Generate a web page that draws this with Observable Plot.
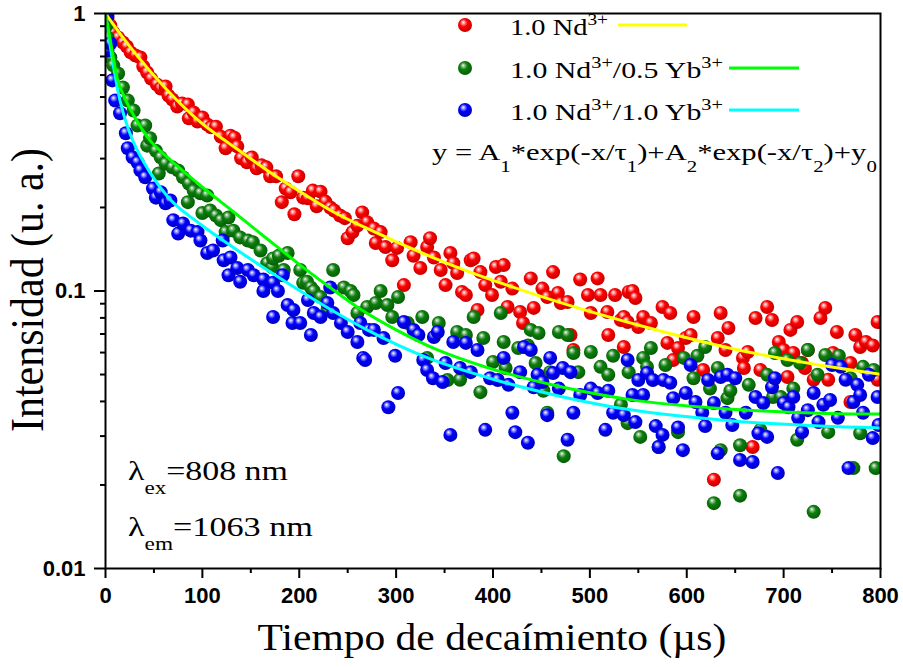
<!DOCTYPE html>
<html>
<head>
<meta charset="utf-8">
<script src="https://cdn.jsdelivr.net/npm/d3@7"></script>
<script src="https://cdn.jsdelivr.net/npm/@observablehq/plot@0.6"></script>
<style>
  html, body { margin: 0; padding: 0; background: #fff; }
  #chart { width: 903px; height: 667px; }
  #defs { position: absolute; width: 0; height: 0; }
</style>
</head>
<body>
<!-- shaded sphere fills for the markers -->
<svg id="defs" aria-hidden="true">
  <defs>
    <radialGradient id="ball-red" cx="0.45" cy="0.42" r="0.6" fx="0.36" fy="0.3">
      <stop offset="0" stop-color="#ffffff"/>
      <stop offset="0.18" stop-color="#ff9a9a"/>
      <stop offset="0.45" stop-color="#ff0000"/>
      <stop offset="1" stop-color="#c00000"/>
    </radialGradient>
    <radialGradient id="ball-green" cx="0.45" cy="0.42" r="0.6" fx="0.36" fy="0.3">
      <stop offset="0" stop-color="#ffffff"/>
      <stop offset="0.18" stop-color="#8fc08f"/>
      <stop offset="0.45" stop-color="#0c7f0c"/>
      <stop offset="1" stop-color="#055a05"/>
    </radialGradient>
    <radialGradient id="ball-blue" cx="0.45" cy="0.42" r="0.6" fx="0.36" fy="0.3">
      <stop offset="0" stop-color="#ffffff"/>
      <stop offset="0.18" stop-color="#9a9aff"/>
      <stop offset="0.45" stop-color="#0000ff"/>
      <stop offset="1" stop-color="#0000b8"/>
    </radialGradient>
  </defs>
</svg>
<div id="chart"></div>
<script>
// Decay curves: time (µs) and normalized intensity (u. a.)

// 1.0 Nd3+
const ndT = [2,5,8,13,18,22,26,31,36,39,43,47,53,57,62,65,69,74,79,85,86,91,95,100,105,109,114,119,124,129,133,136,140,146,151,156,161,166,170,176,182,186,191,195,199,204,209,214,218,222,227,232,236,242,247,250,255,260,265,270,277,279,284,289,296,301,308,315,318,325,332,335,339,346,351,356,359,363,368,372,377,380,384,387,392,399,403,408,411,415,420,428,431,439,442,451,456,462,467,470,477,480,483,490,498,501,508,511,518,519,526,532,535,535,539,540,544,547,550,555,563,575,580,583,586,591,599,604,607,617,628,632,635,640,643,658,659,663,668,671,676,683,688,695,700,704,707,710,714,719,722,725,731,738,743,746,751,755,769,769,774,779,785,792,797,797];
const ndI = [0.959,0.905,0.854,0.819,0.786,0.760,0.724,0.706,0.694,0.644,0.613,0.583,0.555,0.537,0.546,0.506,0.490,0.462,0.474,0.470,0.419,0.440,0.408,0.422,0.398,0.389,0.391,0.360,0.327,0.363,0.357,0.332,0.301,0.291,0.303,0.277,0.284,0.279,0.259,0.259,0.209,0.234,0.227,0.189,0.259,0.217,0.216,0.230,0.202,0.228,0.210,0.200,0.195,0.187,0.183,0.155,0.163,0.172,0.192,0.177,0.168,0.149,0.163,0.144,0.129,0.143,0.105,0.150,0.134,0.121,0.144,0.155,0.132,0.119,0.105,0.137,0.126,0.116,0.0992,0.0967,0.129,0.131,0.0854,0.117,0.105,0.0967,0.122,0.108,0.124,0.0876,0.102,0.0840,0.0767,0.111,0.0869,0.102,0.0951,0.117,0.0984,0.0905,0.0913,0.0694,0.0613,0.110,0.0967,0.0833,0.111,0.0967,0.0840,0.0694,0.0967,0.0786,0.0806,0.0628,0.0773,0.0992,0.100,0.0944,0.0742,0.0806,0.0767,0.0876,0.0650,0.0833,0.0564,0.0623,0.0677,0.0694,0.0806,0.0519,0.0209,0.0677,0.0833,0.0613,0.0736,0.0574,0.0528,0.0603,0.0274,0.0799,0.0519,0.0876,0.0786,0.0655,0.0613,0.0490,0.0724,0.0598,0.0773,0.0550,0.0528,0.0613,0.0479,0.0799,0.0869,0.0479,0.0598,0.0712,0.0550,0.0398,0.0694,0.0628,0.0655,0.0636,0.0773,0.0479];

// 1.0 Nd3+/0.5 Yb3+
const nd05T = [1,2,5,8,13,18,23,29,33,41,43,46,52,55,57,62,69,75,80,85,86,91,98,100,105,108,114,119,124,127,132,139,147,152,160,167,172,173,179,184,188,201,204,208,212,215,222,229,235,246,253,256,260,270,279,284,291,296,302,312,327,332,344,353,363,366,372,380,387,390,400,408,411,413,426,436,439,444,447,452,456,459,468,473,477,483,488,501,511,519,524,532,539,540,552,555,559,563,571,578,591,597,607,611,619,624,628,632,635,642,645,655,655,664,676,683,689,691,697,704,710,714,717,725,731,735,743,746,757,769,772,779,782,793,795];
const nd05I = [0.905,0.819,0.694,0.650,0.608,0.541,0.486,0.447,0.395,0.395,0.334,0.355,0.320,0.265,0.303,0.288,0.279,0.272,0.257,0.209,0.244,0.230,0.225,0.191,0.221,0.195,0.187,0.180,0.163,0.184,0.165,0.156,0.152,0.150,0.140,0.126,0.122,0.131,0.134,0.119,0.137,0.119,0.107,0.108,0.103,0.100,0.0951,0.0854,0.119,0.103,0.100,0.0967,0.0833,0.0876,0.0905,0.100,0.0890,0.0806,0.0951,0.0767,0.0806,0.0574,0.0767,0.0478,0.0712,0.0479,0.0694,0.0806,0.0432,0.0677,0.0555,0.0833,0.0655,0.0528,0.0623,0.0636,0.0724,0.0550,0.0706,0.0437,0.0364,0.0510,0.0712,0.0254,0.0694,0.0598,0.0510,0.0603,0.0533,0.0499,0.0584,0.0389,0.0334,0.0510,0.0298,0.0574,0.0533,0.0623,0.0274,0.0541,0.0310,0.0574,0.0485,0.0584,0.0628,0.0445,0.0172,0.0528,0.0267,0.0411,0.0437,0.0278,0.0183,0.0459,0.0316,0.0499,0.0415,0.0598,0.0415,0.0564,0.0445,0.0291,0.0550,0.0613,0.0160,0.0499,0.0588,0.0310,0.0584,0.0485,0.0230,0.0307,0.0533,0.0519,0.0230];

// 1.0 Nd3+/1.0 Yb3+
const nd10T = [2,2,5,7,10,15,21,23,28,33,36,41,49,52,57,62,67,70,75,80,88,95,98,105,111,121,122,127,129,136,139,147,153,163,163,173,173,178,183,188,193,194,201,209,212,215,222,229,232,235,243,250,260,263,266,268,272,277,287,292,299,302,308,318,323,328,332,338,339,343,348,351,356,359,366,372,377,384,392,397,405,411,416,420,423,428,432,436,439,442,446,451,456,459,462,468,472,477,480,483,490,501,508,516,519,524,535,539,544,547,550,555,559,565,568,571,575,576,583,586,591,596,599,604,609,616,619,622,628,632,635,640,642,647,650,655,661,668,671,674,679,683,688,691,694,700,705,710,715,719,725,731,736,741,748,750,756,759,764,767,772,776,779,782,788,792,797,798];
const nd10I = [0.98,0.736,0.780,0.574,0.486,0.437,0.370,0.327,0.303,0.291,0.272,0.257,0.234,0.217,0.227,0.207,0.212,0.180,0.161,0.175,0.165,0.163,0.152,0.137,0.140,0.152,0.129,0.114,0.132,0.121,0.108,0.119,0.114,0.110,0.100,0.107,0.0806,0.100,0.114,0.0890,0.0767,0.0854,0.0767,0.0928,0.0694,0.0833,0.0806,0.0905,0.103,0.0833,0.0767,0.0712,0.0655,0.0767,0.0574,0.0564,0.0724,0.0724,0.0677,0.0381,0.0584,0.0429,0.0773,0.0724,0.0694,0.0564,0.0519,0.0485,0.0683,0.0712,0.0470,0.0550,0.0303,0.0655,0.0528,0.0650,0.0510,0.0613,0.0316,0.0485,0.0478,0.0574,0.0459,0.0364,0.0310,0.0510,0.0628,0.0284,0.0613,0.0450,0.0499,0.0470,0.0357,0.0574,0.0506,0.0445,0.0528,0.0291,0.0510,0.0364,0.0422,0.0445,0.0429,0.0316,0.0437,0.0364,0.0357,0.0564,0.0422,0.0337,0.0478,0.0422,0.0506,0.0478,0.0326,0.0274,0.0303,0.0478,0.0467,0.0411,0.0322,0.0267,0.0429,0.0541,0.0398,0.0364,0.0326,0.0478,0.0395,0.0260,0.0490,0.0364,0.0499,0.0329,0.0485,0.0246,0.0364,0.0242,0.0415,0.0307,0.0395,0.0298,0.0450,0.0485,0.0221,0.0395,0.0381,0.0415,0.0349,0.0310,0.0372,0.0429,0.0337,0.0389,0.0405,0.0541,0.0349,0.0533,0.0479,0.0230,0.0398,0.0459,0.0422,0.0364,0.0499,0.0295,0.0415,0.0329];

// Biexponential fits, sampled along time
const fitNdT = [0,5,29,64,98,132,167,201,235,270,356,459,563,666,738,800];
const fitNdI = [1.0,0.944,0.730,0.528,0.406,0.332,0.272,0.228,0.193,0.168,0.1245,0.0933,0.0733,0.0600,0.0540,0.0501];
const fitNd05T = [0,5,12,21,29,46,64,98,132,167,201,235,263,300,332,400,470,542,635,738,800];
const fitNd05I = [1.0,0.80,0.588,0.486,0.43,0.349,0.303,0.240,0.193,0.154,0.124,0.101,0.0861,0.0724,0.0637,0.0522,0.0452,0.0406,0.0377,0.0363,0.0360];
const fitNd10T = [0,5,15,23,29,46,64,98,132,167,201,235,270,332,400,470,542,635,738,800];
const fitNd10I = [1.0,0.759,0.485,0.388,0.343,0.267,0.219,0.174,0.1435,0.119,0.100,0.0847,0.0724,0.0575,0.0481,0.0417,0.0373,0.0343,0.0326,0.0321];

// Axis ticks
const xMajor = [0,100,200,300,400,500,600,700,800];
const xMinor = [50,150,250,350,450,550,650,750];
const yMajor = [0.01,0.1,1];
const yMinor = [0.02,0.03,0.04,0.05,0.06,0.07,0.08,0.09,0.2,0.3,0.4,0.5,0.6,0.7,0.8,0.9];

// Legend entries: label parts, ball fill, fit colour
const seriesNames = [
  [["1.0 Nd"],["3+","sup"]],
  [["1.0 Nd"],["3+","sup"],["/0.5 Yb"],["3+","sup"]],
  [["1.0 Nd"],["3+","sup"],["/1.0 Yb"],["3+","sup"]]
];
const ballFills = ["url(#ball-red)","url(#ball-green)","url(#ball-blue)"];
const fitColors = ["#ffff00","#00ff00","#00ffff"];

const rows = (t, v) => t.map((x, i) => ({t: x, v: v[i]}));

const chart = Plot.plot({
  width: 903,
  height: 667,
  marginTop: 13,
  marginRight: 23,
  marginBottom: 99,
  marginLeft: 105,
  x: {domain: [0, 800]},
  y: {type: "log", domain: [0.01, 1]},
  style: {fontFamily: "'Liberation Sans', Arial, sans-serif", fontSize: "22px", fontWeight: "bold", color: "#000", background: "#fff"},
  marks: [
    Plot.dot(rows(ndT, ndI), {x: "t", y: "v", r: 7, fill: ballFills[0], clip: "frame"}),
    Plot.dot(rows(nd05T, nd05I), {x: "t", y: "v", r: 7, fill: ballFills[1], clip: "frame"}),
    Plot.dot(rows(nd10T, nd10I), {x: "t", y: "v", r: 7, fill: ballFills[2], clip: "frame"}),
    Plot.line(rows(fitNdT, fitNdI), {x: "t", y: "v", stroke: fitColors[0], strokeWidth: 3, curve: "monotone-x", clip: "frame"}),
    Plot.line(rows(fitNd10T, fitNd10I), {x: "t", y: "v", stroke: fitColors[2], strokeWidth: 3, curve: "monotone-x", clip: "frame"}),
    Plot.line(rows(fitNd05T, fitNd05I), {x: "t", y: "v", stroke: fitColors[1], strokeWidth: 3, curve: "monotone-x", clip: "frame"}),
    Plot.axisX({ticks: xMajor, tickSize: 10, tickPadding: 9, tickFormat: d => String(d), strokeWidth: 2, label: null, fontSize: 22}),
    Plot.axisX({ticks: xMinor, tickSize: 5, tickFormat: () => "", strokeWidth: 2, label: null}),
    Plot.axisY({ticks: yMajor, tickSize: 11, tickPadding: 9, tickFormat: d => String(d), strokeWidth: 2, label: null, fontSize: 22}),
    Plot.axisY({ticks: yMinor, tickSize: 5, tickFormat: () => "", strokeWidth: 2, label: null}),
    Plot.frame({stroke: "#000", strokeWidth: 2})
  ]
});
document.getElementById("chart").appendChild(chart);

// Serif labels with sub/superscripts, stretched to their set widths
const svg = d3.select(chart);
const serif = "'Liberation Serif', 'Times New Roman', serif";

function richText(parent, parts, size) {
  const t = parent.append("text")
    .attr("text-anchor", "start")
    .attr("font-family", serif)
    .attr("font-size", size)
    .attr("font-weight", "normal")
    .attr("fill", "#000");
  let shift = 0;
  for (const [s, kind] of parts) {
    const target = kind === "sup" ? -0.42 * size : kind === "sub" ? 0.5 * size : 0;
    const ts = t.append("tspan").text(s).attr("dy", target - shift);
    if (kind) ts.attr("font-size", size * 0.68);
    shift = target;
  }
  return t;
}

function place(parts, {x, y, size, width, anchor = "start", rotate = 0, thick = 1}) {
  const g = svg.append("g");
  const t = richText(g, parts, size);
  const w = t.node().getComputedTextLength();
  const s = width ? width / w : 1;
  const off = anchor === "middle" ? -w / 2 : anchor === "end" ? -w : 0;
  t.attr("x", off);
  g.attr("transform", `translate(${x},${y}) rotate(${rotate}) scale(${s},${thick})`);
}

// Legend
const legend = svg.append("g");
const rowsY = [25, 68, 110];
const labelW = [98, 213, 213];
const lineX = [[618, 687], [729, 799], [729, 799]];
seriesNames.forEach((parts, i) => {
  legend.append("circle").attr("cx", 465).attr("cy", rowsY[i]).attr("r", 7).attr("fill", ballFills[i]);
  legend.append("line")
    .attr("x1", lineX[i][0]).attr("x2", lineX[i][1])
    .attr("y1", rowsY[i]).attr("y2", rowsY[i])
    .attr("stroke", fitColors[i]).attr("stroke-width", 3);
  place(parts, {x: 510, y: rowsY[i] + 10, size: 24, width: labelW[i]});
});
place([["y = A"],["1","sub"],["*exp(-x/τ"],["1","sub"],[")+A"],["2","sub"],["*exp(-x/τ"],["2","sub"],[")+y"],["0","sub"]],
  {x: 432, y: 160, size: 24, width: 445});

// Excitation / emission wavelengths
place([["λ"],["ex","sub"],["=808 nm"]], {x: 128, y: 480, size: 28, width: 160});
place([["λ"],["em","sub"],["=1063 nm"]], {x: 128, y: 536, size: 28, width: 185});

// Axis titles
place([["Tiempo de decaímiento (µs)"]], {x: 492, y: 650, size: 38, width: 469, anchor: "middle"});
place([["Intensidad (u. a.)"]], {x: 43, y: 290, size: 40, width: 284, anchor: "middle", rotate: -90, thick: 1.15});
</script>
</body>
</html>
